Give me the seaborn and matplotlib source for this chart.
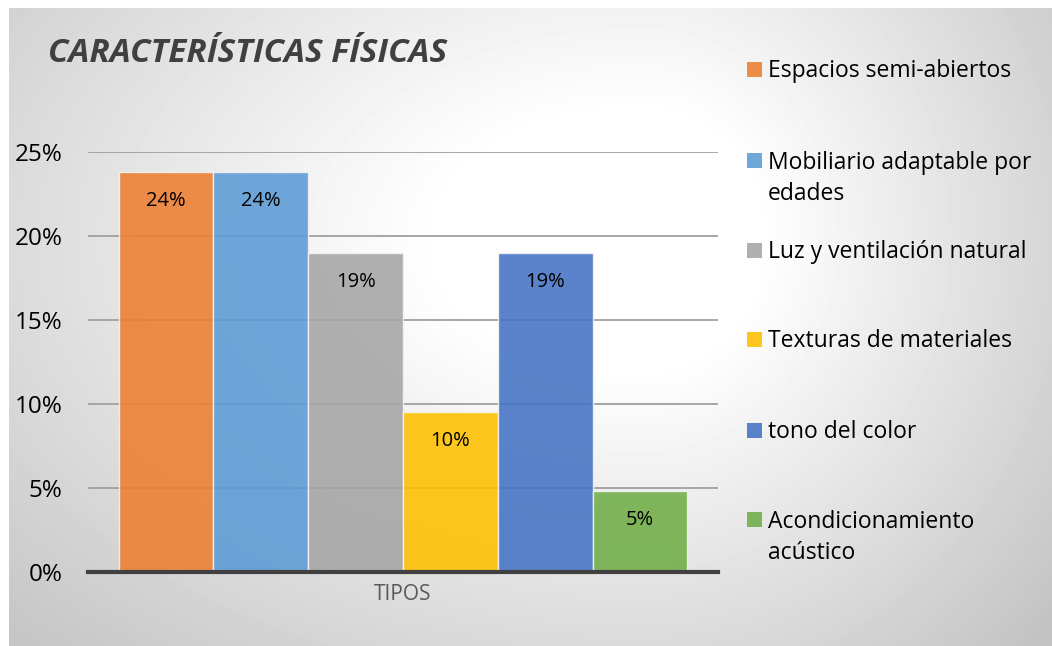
"""
Gráfico de barras: características físicas (porcentaje por tipo)
"""

import numpy as np
import pandas as pd
import matplotlib
matplotlib.use("Agg")
import matplotlib.pyplot as plt
from matplotlib.patches import Rectangle
import seaborn as sns

# Datos del gráfico
titulo = "CARACTERÍSTICAS FÍSICAS"
grupo_x = "TIPOS"
tipos = ["Espacios semi-abiertos", "Mobiliario adaptable por edades",
         "Luz y ventilación natural", "Texturas de materiales",
         "tono del color", "Acondicionamiento acústico"]
textos_leyenda = ["Espacios semi-abiertos", "Mobiliario adaptable por\nedades",
                  "Luz y ventilación natural", "Texturas de materiales",
                  "tono del color", "Acondicionamiento\nacústico"]
porcentajes = [0.238, 0.238, 0.190, 0.095, 0.190, 0.048]
etiquetas = ["24%", "24%", "19%", "10%", "19%", "5%"]
colores = ["#ED7D31", "#5B9BD5", "#A5A5A5", "#FFC000", "#4472C4", "#70AD47"]
ticks_y = [0, 0.05, 0.10, 0.15, 0.20, 0.25]
etiquetas_y = ["0%", "5%", "10%", "15%", "20%", "25%"]

sns.set_style("white")
plt.rcParams['font.family'] = ['Open Sans', 'DejaVu Sans']

W, H = 1052, 646
fig = plt.figure(figsize=(W / 100, H / 100), dpi=100, facecolor="white")

# Fondo con degradado (coordenadas en píxeles)
ax_bg = fig.add_axes([0, 0, 1, 1], zorder=0)
ax_bg.set_xlim(0, W)
ax_bg.set_ylim(H, 0)
ax_bg.axis("off")

xs = np.arange(9, W) + 0.5
ys = np.arange(8, H) + 0.5
gx, gy = np.meshgrid(xs, ys)
cx, cy = 640, 240
dx = np.where(gx > cx, (gx - cx) / 430, (gx - cx) / 720)
dy = (gy - cy) / 460
r = np.sqrt(dx ** 2 + dy ** 2)
t = np.clip((r - 0.28) / 1.0, 0, 1)
fondo = 255 - (255 - 194) * t
ax_bg.imshow(fondo, cmap="gray", vmin=0, vmax=255, extent=(9, W, H, 8),
             aspect="auto", interpolation="bilinear")

# Título
ax_bg.text(48, 62, titulo, fontsize=24, fontweight="bold", fontstyle="italic",
           color="#404040", va="baseline", ha="left")

# Leyenda (la línea base indicada es la de la primera línea del texto)
base_leyenda = [77, 168, 258, 347, 438, 527]
salto = 32
for texto, color, base in zip(textos_leyenda, colores, base_leyenda):
    ax_bg.add_patch(Rectangle((747, base - 15), 15, 15, facecolor=color,
                              alpha=0.88, edgecolor="none"))
    n_lineas = texto.count("\n")
    ax_bg.text(768, base + salto * n_lineas, texto, fontsize=16.5,
               color="#000000", va="baseline", ha="left", linespacing=1.4)

# Gráfico principal
ax = fig.add_axes([88 / W, 74 / H, 630 / W, 420 / H], zorder=1)
ax.patch.set_alpha(0)

df = pd.DataFrame({"grupo": [grupo_x] * len(tipos), "tipo": tipos,
                   "valor": porcentajes})
sns.barplot(data=df, x="grupo", y="valor", hue="tipo", hue_order=tipos,
            palette=colores, saturation=1, width=0.903, alpha=0.88,
            edgecolor="#f4f4f4", linewidth=1, errorbar=None, legend=False, ax=ax)

for cont, etq in zip(ax.containers, etiquetas):
    ax.bar_label(cont, labels=[etq], padding=-28, fontsize=14.5, color="#000000")

ax.set_ylim(0, 0.25)
ax.set_xlim(-0.5, 0.5)
ax.set_yticks(ticks_y, etiquetas_y)
ax.set_xticks([-0.5, 0.5], ["", ""])
ax.set_xticks([0], [grupo_x], minor=True)
ax.set_xlabel("")
ax.set_ylabel("")

ax.yaxis.grid(True, color="#a0a0a0", linewidth=1.3)
ax.set_axisbelow(True)

for lado in ["left", "right", "top"]:
    ax.spines[lado].set_visible(False)
ax.spines["bottom"].set_color("#404040")
ax.spines["bottom"].set_linewidth(3)

ax.tick_params(axis="y", length=0, pad=18.5, labelsize=17.5, labelcolor="#000000")
ax.tick_params(axis="x", which="major", length=3, width=3, color="#404040")
ax.tick_params(axis="x", which="minor", length=0, pad=9, labelsize=15,
               labelcolor="#595959")

plt.savefig("out.png", dpi=100)
